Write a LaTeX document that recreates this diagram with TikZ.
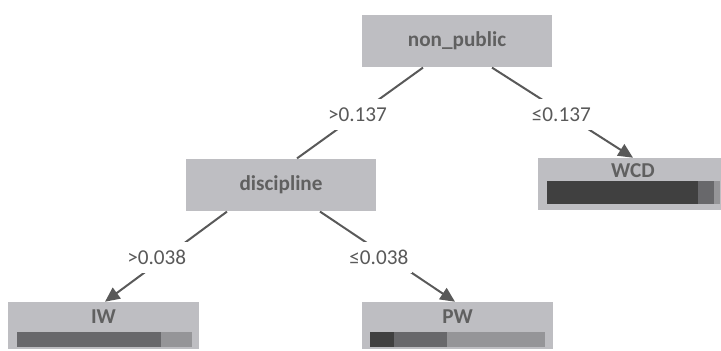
\documentclass[tikz,border=0pt]{standalone}
\usepackage{fontspec}
\setmainfont{Carlito}
\usetikzlibrary{arrows.meta,calc}
\definecolor{boxgray}{RGB}{190,190,194}
\definecolor{inkgray}{RGB}{89,89,89}
\definecolor{namegray}{RGB}{96,96,96}
\definecolor{bardark}{RGB}{64,64,64}
\definecolor{barmid}{RGB}{104,104,107}
\definecolor{barlight}{RGB}{149,149,152}

\begin{document}
\begin{tikzpicture}[
        x=0.75pt, y=-0.75pt, % pixel grid, y grows downwards
        font=\fontsize{15.9}{19}\selectfont,
        split/.style={rectangle, fill=boxgray, minimum width=142.5pt, minimum height=39.5pt, text=namegray, font=\fontsize{15.9}{19}\selectfont\bfseries},
        leaf/.style={rectangle, fill=boxgray, minimum width=143pt},
        leafname/.style={anchor=base, inner sep=0pt, text=namegray, font=\fontsize{15.9}{19}\selectfont\bfseries},
        cond/.style={fill=white, text=inkgray, inner xsep=3pt, inner ysep=6.4pt},
        branch/.style={draw=inkgray, line width=1.5pt},
        arrow/.style={branch, -{Triangle[length=11pt,width=10pt]}},
    ]
    \useasboundingbox (0,0) rectangle (721,350);
    \clip (0,0) rectangle (721,350);

    % split nodes
    \node[split] (np) at (457,41) {non\_public};
    \node[split] (disc) at (281,185) {discipline};

    % leaves
    \node[leaf, minimum height=39pt] (wcd) at (633,184) {};
    \node[leaf, minimum height=35.25pt] (iw) at (103.5,325.5) {};
    \node[leaf, minimum height=35.25pt] (pw) at (457.5,325.5) {};
    \node[leafname] (wcdname) at (633,177) {WCD};
    \node[leafname] (iwname) at (103.5,323) {IW};
    \node[leafname] (pwname) at (457.5,323) {PW};

    % class bars
    \fill[bardark] (547,181) rectangle (698,204);
    \fill[barmid] (698,181) rectangle (714,204);
    \fill[barlight] (714,181) rectangle (720,204);
    \fill[barmid] (17,332) rectangle (161,347);
    \fill[barlight] (161,332) rectangle (192,347);
    \fill[bardark] (370,332) rectangle (394,347);
    \fill[barmid] (394,332) rectangle (447,347);
    \fill[barlight] (447,332) rectangle (545,347);

    % branches
    \draw[branch] ($(np.south)+(-34,0)$) -- node[cond, pos=0.52] (c1) {>0.137} ($(disc.north)+(16,0)$);
    \draw[arrow] ($(np.south)+(35,0)$) -- node[cond, pos=0.52, xshift=-3pt] (c2) {≤0.137} (wcd.north);
    \draw[arrow] ($(disc.south)+(-54,0)$) -- node[cond, pos=0.51, xshift=-6pt] (c3) {>0.038} ($(iw.north)+(1.5,0)$);
    \draw[arrow] ($(disc.south)+(39,0)$) -- node[cond, pos=0.51, xshift=-7.5pt] (c4) {≤0.038} ($(pw.north)+(-2.5,0)$);
\end{tikzpicture}
\end{document}
